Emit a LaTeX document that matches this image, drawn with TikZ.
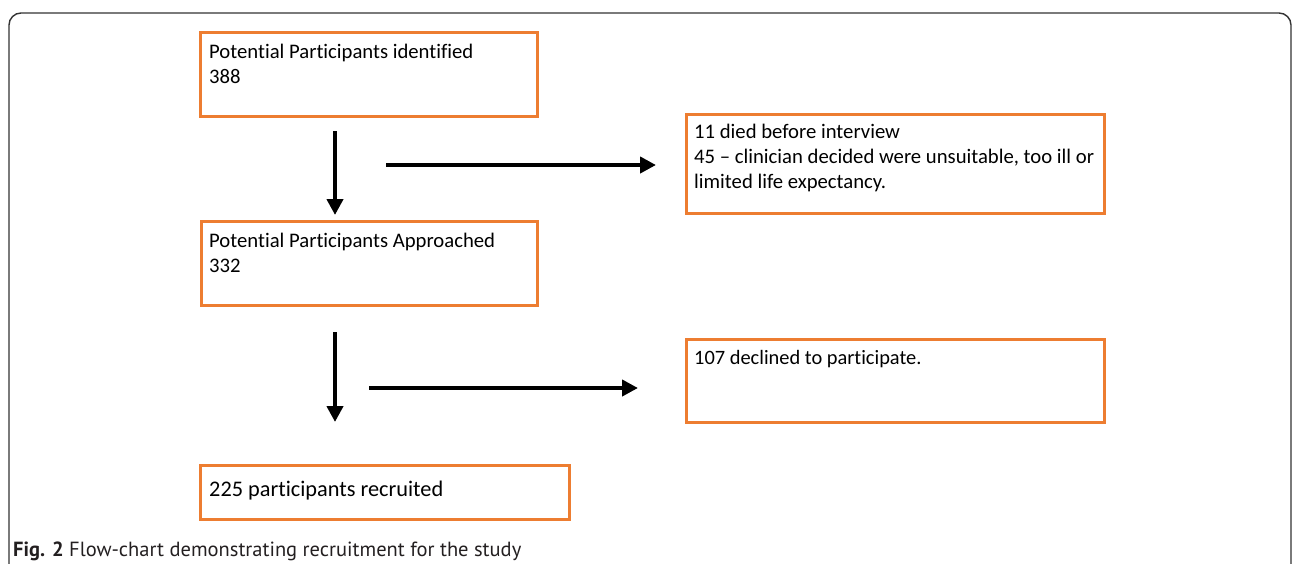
\documentclass[tikz,border=0pt]{standalone}
\usepackage{fontspec}
\setmainfont[Ligatures=NoCommon]{Carlito}
\newfontfamily\capfont{PT Sans}
\usetikzlibrary{arrows.meta}
\definecolor{boxorange}{HTML}{ED7D31}
\definecolor{framegray}{HTML}{333333}
\definecolor{captext}{HTML}{231F20}
\tikzset{
  x=1pt, y=-1pt,
  flowbox/.style={draw=boxorange, line width=3pt, rectangle, inner sep=0pt, anchor=north west},
  boxtext/.style={anchor=base west, inner sep=0pt, align=left, font=\fontsize{20.7}{24.6}\selectfont},
  flowarrow/.style={line width=4.8pt, -{Triangle[length=16pt,width=16pt]}},
}
\begin{document}
\begin{tikzpicture}
\useasboundingbox (0,0) rectangle (1293,563);
% outer frame (open at bottom)
\draw[framegray, line width=1.4pt, rounded corners=12pt] (9,570) -- (9,13) -- (1291,13) -- (1291,570);
% boxes
\node[flowbox, minimum width=337pt, minimum height=84pt] (b1) at (199,31) {};
\node[flowbox, minimum width=336pt, minimum height=84pt] (b2) at (200,220) {};
\node[flowbox, minimum width=418pt, minimum height=99pt] (b3) at (685,113) {};
\node[flowbox, minimum width=418pt, minimum height=83pt] (b4) at (685,338) {};
\node[flowbox, minimum width=369pt, minimum height=54pt] (b5) at (199,464) {};
% texts (base anchor = baseline of the last line)
\node[boxtext] (t1) at (209,83) {Potential Participants identified\\388};
\node[boxtext] (t2) at (209,272) {Potential Participants Approached\\332};
\node[boxtext] (t3) at (694,188) {11 died before interview\\45 -- clinician decided were unsuitable, too ill or\\limited life expectancy.};
\node[boxtext, font=\fontsize{20.4}{24}\selectfont] (t4) at (694,364) {107 declined to participate.};
\node[boxtext, font=\fontsize{22.3}{26}\selectfont] (t5) at (209,496) {225 participants recruited};
% connectors
\coordinate (a1s) at (335,131);
\coordinate (a1e) at (335,215);
\coordinate (h1s) at (386,165);
\coordinate (h1e) at (656,165);
\coordinate (a2s) at (335,332);
\coordinate (a2e) at (335,422);
\coordinate (h2s) at (369,388);
\coordinate (h2e) at (638,388);
\draw[flowarrow] (a1s) -- (a1e);
\draw[flowarrow] (h1s) -- (h1e);
\draw[flowarrow] (a2s) -- (a2e);
\draw[flowarrow] (h2s) -- (h2e);
% caption
\node[anchor=base west, inner sep=0pt, text=captext, font=\capfont\fontsize{20.5}{24}\selectfont] (cap) at (13,556) {\textbf{Fig. 2} Flow-chart demonstrating recruitment for the study};
\end{tikzpicture}
\end{document}
